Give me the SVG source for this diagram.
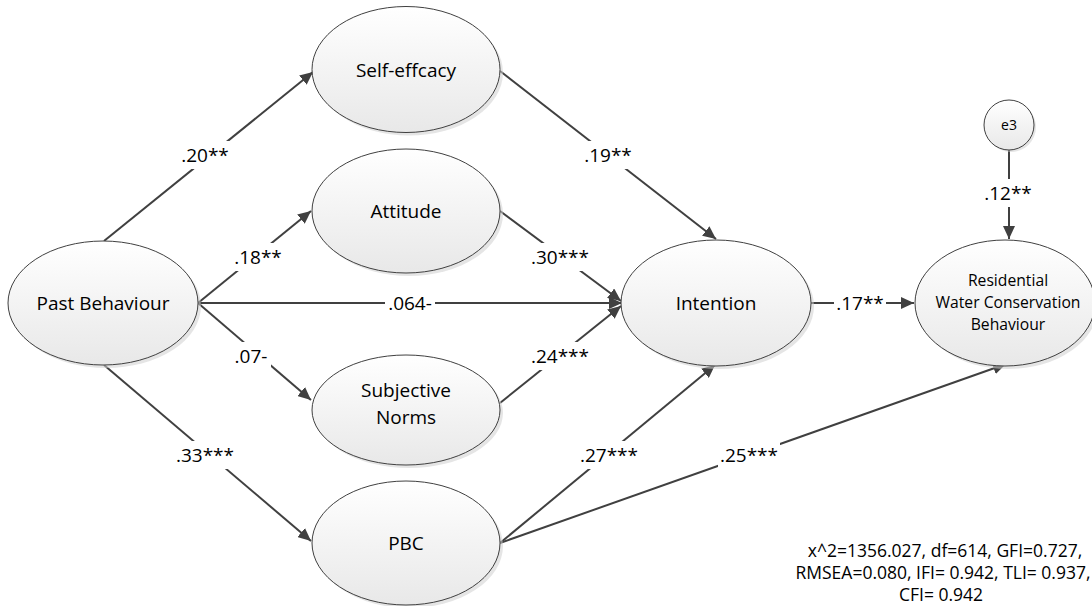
<svg xmlns="http://www.w3.org/2000/svg" width="1092" height="606" viewBox="0 0 1092 606">
<defs>
<linearGradient id="g" x1="0" y1="0" x2="0" y2="1">
<stop offset="0" stop-color="#ffffff"/>
<stop offset="1" stop-color="#e8e8e8"/>
</linearGradient>
<marker id="ah" markerUnits="userSpaceOnUse" markerWidth="14" markerHeight="12" refX="13" refY="6" orient="auto">
<path d="M0,0 L13,6 L0,12 z" fill="#404040"/>
</marker>
<style>
.sh{fill:#cfcfcf;opacity:0.55}
.nd{fill:url(#g);stroke:#404040;stroke-width:1}
.t{font-family:"Open Sans","Liberation Sans",sans-serif;font-size:19px;fill:#000;text-anchor:middle}
.ts{font-family:"Open Sans","Liberation Sans",sans-serif;font-size:15.7px;fill:#000;text-anchor:middle}
.st{font-family:"Open Sans","Liberation Sans",sans-serif;font-size:17.5px;fill:#000;text-anchor:middle}
.lb{font-family:"Open Sans","Liberation Sans",sans-serif;font-size:19px;fill:#000;text-anchor:middle}
.ln{stroke:#404040;stroke-width:2;fill:none}
.bg{fill:#fff}
</style>
</defs>
<rect width="1092" height="606" fill="#fff"/>
<g id="connectors">
<line class="ln" x1="104" y1="241" x2="313" y2="72" marker-end="url(#ah)"/>
<line class="ln" x1="198" y1="303" x2="311" y2="211" marker-end="url(#ah)"/>
<line class="ln" x1="198" y1="303" x2="622" y2="303" marker-end="url(#ah)"/>
<line class="ln" x1="198" y1="303" x2="311" y2="400" marker-end="url(#ah)"/>
<line class="ln" x1="104" y1="365" x2="311" y2="541" marker-end="url(#ah)"/>
<line class="ln" x1="500" y1="71" x2="716" y2="239" marker-end="url(#ah)"/>
<line class="ln" x1="500" y1="211" x2="621" y2="301" marker-end="url(#ah)"/>
<line class="ln" x1="500" y1="403" x2="621" y2="306" marker-end="url(#ah)"/>
<line class="ln" x1="500" y1="543" x2="715" y2="365" marker-end="url(#ah)"/>
<line class="ln" x1="500" y1="543" x2="1006" y2="364" marker-end="url(#ah)"/>
<line class="ln" x1="811" y1="303" x2="914" y2="303" marker-end="url(#ah)"/>
<line class="ln" x1="1009" y1="150" x2="1009" y2="239" marker-end="url(#ah)"/>
<g id="labels">
<rect class="bg" x="178" y="141" width="54" height="28"/><text class="lb" x="205" y="161.5">.20**</text>
<rect class="bg" x="231" y="243" width="54" height="28"/><text class="lb" x="258" y="263.5">.18**</text>
<rect class="bg" x="385" y="289" width="50" height="28"/><text class="lb" x="410" y="309.5">.064-</text>
<rect class="bg" x="231" y="342" width="40" height="28"/><text class="lb" x="251" y="362.5">.07-</text>
<rect class="bg" x="174" y="441" width="62" height="28"/><text class="lb" x="205" y="461.5">.33***</text>
<rect class="bg" x="581" y="141" width="54" height="28"/><text class="lb" x="608" y="161.5">.19**</text>
<rect class="bg" x="529" y="243" width="62" height="28"/><text class="lb" x="560" y="263.5">.30***</text>
<rect class="bg" x="529" y="342" width="62" height="28"/><text class="lb" x="560" y="362.5">.24***</text>
<rect class="bg" x="578" y="441" width="62" height="28"/><text class="lb" x="609" y="461.5">.27***</text>
<rect class="bg" x="718" y="441" width="62" height="28"/><text class="lb" x="749" y="461.5">.25***</text>
<rect class="bg" x="834" y="289" width="52" height="28"/><text class="lb" x="860" y="309.5">.17**</text>
<rect class="bg" x="981" y="179" width="54" height="28"/><text class="lb" x="1008" y="199.5">.12**</text>
</g>
</g>
<g id="past-behaviour">
<ellipse class="sh" cx="106" cy="306" rx="95" ry="62"/>
<ellipse class="nd" cx="103" cy="303" rx="95" ry="62"/>
<text class="t" x="103" y="310">Past Behaviour</text>
</g>
<g id="self-efficacy">
<ellipse class="sh" cx="409" cy="72.5" rx="94" ry="63"/>
<ellipse class="nd" cx="406" cy="69.5" rx="94" ry="63"/>
<text class="t" x="406" y="77">Self-effcacy</text>
</g>
<g id="attitude">
<ellipse class="sh" cx="409" cy="214" rx="94" ry="62"/>
<ellipse class="nd" cx="406" cy="211" rx="94" ry="62"/>
<text class="t" x="406" y="218">Attitude</text>
</g>
<g id="subjective-norms">
<ellipse class="sh" cx="409" cy="413" rx="94" ry="55"/>
<ellipse class="nd" cx="406" cy="410" rx="94" ry="55"/>
<text class="t" x="406" y="397">Subjective</text>
<text class="t" x="406" y="424">Norms</text>
</g>
<g id="pbc">
<ellipse class="sh" cx="409" cy="546" rx="94" ry="62"/>
<ellipse class="nd" cx="406" cy="543" rx="94" ry="62"/>
<text class="t" x="406" y="550">PBC</text>
</g>
<g id="intention">
<ellipse class="sh" cx="719" cy="306" rx="95" ry="63"/>
<ellipse class="nd" cx="716" cy="303" rx="95" ry="63"/>
<text class="t" x="716" y="310">Intention</text>
</g>
<g id="residential">
<ellipse class="sh" cx="1008" cy="306" rx="90" ry="63"/>
<ellipse class="nd" cx="1005" cy="303" rx="90" ry="63"/>
<text class="ts" x="1008" y="286">Residential</text>
<text class="ts" x="1008" y="308">Water Conservation</text>
<text class="ts" x="1008" y="330">Behaviour</text>
</g>
<g id="e3">
<circle class="sh" cx="1011" cy="127" r="25"/>
<circle class="nd" cx="1009" cy="125" r="25"/>
<text class="ts" x="1009" y="130" style="font-size:14px">e3</text>
</g>
<g id="fit-stats">
<text class="st" x="945" y="557">x^2=1356.027, df=614, GFI=0.727,</text>
<text class="st" x="943" y="579">RMSEA=0.080, IFI= 0.942, TLI= 0.937,</text>
<text class="st" x="941" y="601">CFI= 0.942</text>
</g>
</svg>
